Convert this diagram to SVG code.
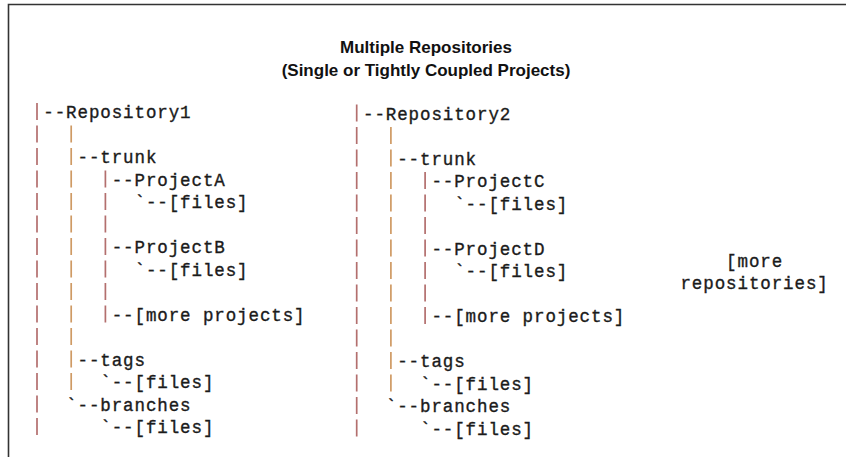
<svg xmlns="http://www.w3.org/2000/svg" width="846" height="457" viewBox="0 0 846 457">
<style>
.t{font-family:"Liberation Mono","Courier New",monospace;font-size:17.5px;letter-spacing:0.9px;fill:#1b1b1b;stroke:#1b1b1b;stroke-width:0.35px}
.h{font-family:"Liberation Sans",Arial,Helvetica,sans-serif;font-size:17px;font-weight:bold;fill:#111;text-anchor:middle}
.p1{stroke:#b36f6e;stroke-width:1.7;stroke-dasharray:17 5.5;fill:none}
.p2{stroke:#cf9a64;stroke-width:1.7;stroke-dasharray:17 5.5;fill:none}
</style>
<rect width="846" height="457" fill="#fff"/>
<path d="M8.5,457V4.5H846" fill="none" stroke="#333" stroke-width="1.6"/>
<g id="title">
<text class="h" x="426" y="53">Multiple Repositories</text>
<text class="h" x="426" y="76">(Single or Tightly Coupled Projects)</text>
</g>
<g id="connectors">
<line class="p1" x1="37" y1="103" x2="37" y2="435"/>
<line class="p2" x1="71.2" y1="125.5" x2="71.2" y2="390"/>
<line class="p1" x1="105.4" y1="170.5" x2="105.4" y2="322.5"/>
<line class="p1" x1="356.7" y1="104.5" x2="356.7" y2="436.5"/>
<line class="p2" x1="390.9" y1="127" x2="390.9" y2="391.5"/>
<line class="p1" x1="425.1" y1="172" x2="425.1" y2="324"/>
</g>
<g id="repo1"><text class="t" x="43.3" y="118">--Repository1</text></g>
<g id="repo1-trunk"><text class="t" x="77.5" y="163">--trunk</text></g>
<g id="repo1-projectA"><text class="t" x="111.7" y="185.5">--ProjectA</text></g>
<g id="repo1-projectA-files"><text class="t" x="134.5" y="208">`--[files]</text></g>
<g id="repo1-projectB"><text class="t" x="111.7" y="253">--ProjectB</text></g>
<g id="repo1-projectB-files"><text class="t" x="134.5" y="275.5">`--[files]</text></g>
<g id="repo1-more-projects"><text class="t" x="111.7" y="320.5">--[more projects]</text></g>
<g id="repo1-tags"><text class="t" x="77.5" y="365.5">--tags</text></g>
<g id="repo1-tags-files"><text class="t" x="100.3" y="388">`--[files]</text></g>
<g id="repo1-branches"><text class="t" x="66.1" y="410.5">`--branches</text></g>
<g id="repo1-branches-files"><text class="t" x="100.3" y="433">`--[files]</text></g>
<g id="repo2"><text class="t" x="363" y="119.5">--Repository2</text></g>
<g id="repo2-trunk"><text class="t" x="397.2" y="164.5">--trunk</text></g>
<g id="repo2-projectC"><text class="t" x="431.4" y="187">--ProjectC</text></g>
<g id="repo2-projectC-files"><text class="t" x="454.2" y="209.5">`--[files]</text></g>
<g id="repo2-projectD"><text class="t" x="431.4" y="254.5">--ProjectD</text></g>
<g id="repo2-projectD-files"><text class="t" x="454.2" y="277">`--[files]</text></g>
<g id="repo2-more-projects"><text class="t" x="431.4" y="322">--[more projects]</text></g>
<g id="repo2-tags"><text class="t" x="397.2" y="367">--tags</text></g>
<g id="repo2-tags-files"><text class="t" x="420" y="389.5">`--[files]</text></g>
<g id="repo2-branches"><text class="t" x="385.8" y="412">`--branches</text></g>
<g id="repo2-branches-files"><text class="t" x="420" y="434.5">`--[files]</text></g>
<g id="more-repositories">
<text class="t" x="754.6" y="267" text-anchor="middle">[more</text>
<text class="t" x="754.6" y="289" text-anchor="middle">repositories]</text>
</g>
</svg>
